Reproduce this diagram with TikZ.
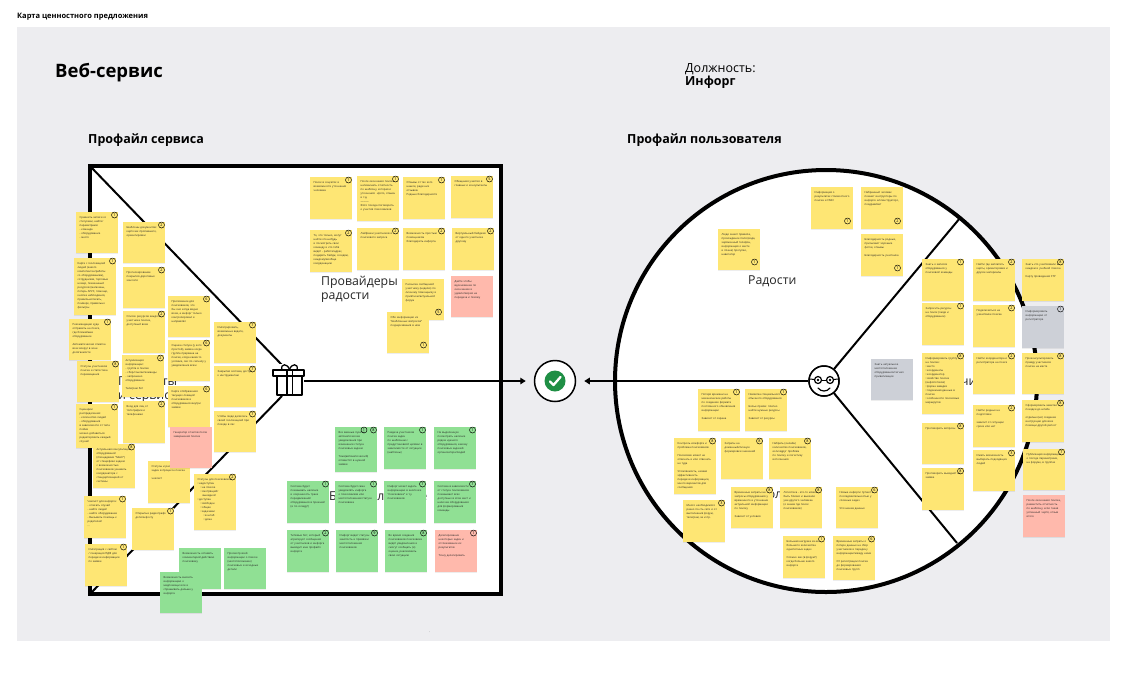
\documentclass[tikz,border=0pt]{standalone}
\usepackage{fontspec}
\setmainfont{Open Sans}
\usetikzlibrary{arrows.meta}
\definecolor{bggray}{HTML}{EDEDF0}
\definecolor{yel}{HTML}{FEE674}
\definecolor{grn}{HTML}{90E094}
\definecolor{rd}{HTML}{FFB9AC}
\definecolor{gry}{HTML}{CDD0D7}
\definecolor{okgreen}{HTML}{1F8F45}
\tikzset{
  x=1pt,y=-1pt,
  stickybox/.style={draw=none,anchor=north west,inner sep=0pt,minimum width=41.5pt,outer sep=0pt},
  stickytext/.style={anchor=north west,inner sep=0pt,text width=35pt,align=left,font=\fontsize{2.7}{4}\selectfont,text=black!85},
  badge/.style={circle,draw=black,line width=.45pt,inner sep=0pt,minimum size=6pt,font=\fontsize{3.8}{4}\selectfont},
  areatitle/.style={anchor=base west,inner sep=0pt,align=left,font=\fontsize{12.3}{14}\selectfont,text=black!85},
  heading/.style={anchor=base west,inner sep=0pt,font=\bfseries},
  frameline/.style={line width=4pt,draw=black},
  divider/.style={line width=2pt,draw=black},
  flow/.style={line width=2pt,draw=black,-{Triangle[length=5.5pt,width=6.5pt]}},
  icon/.style={line width=1.5pt,draw=black,fill=white,line join=round}
}
\newcommand{\gap}{\\[4pt]}
\newcommand{\li}{•\,}
\newcommand{\sticky}[7]{%
  \fill[black,opacity=.07] ({#2-.5},{#3-.2}) rectangle ({#2+42.2},{#3+#4+1});
  \node[stickybox,fill=#5,minimum height=#4pt] (#1) at (#2,#3) {};
  \node[stickytext] (#1t) at ({#2+3.5},{#3+4}) {#7};
  \node[badge] (#1n) at ({#2+38.5},{#3+3}) {#6};
}
\newcommand{\stickyB}[7]{%
  \fill[black,opacity=.07] ({#2-.5},{#3-.2}) rectangle ({#2+42.2},{#3+#4+1});
  \node[stickybox,fill=#5,minimum height=#4pt] (#1) at (#2,#3) {};
  \node[stickytext] (#1t) at ({#2+3.5},{#3+4}) {#7};
  \node[badge] (#1n) at ({#2+36.5},{#3+#4-8}) {#6};
}
\newcommand{\stickyP}[6]{%
  \fill[black,opacity=.07] ({#2-.5},{#3-.2}) rectangle ({#2+42.2},{#3+#4+1});
  \node[stickybox,fill=#5,minimum height=#4pt] (#1) at (#2,#3) {};
  \node[stickytext] (#1t) at ({#2+3.5},{#3+4}) {#6};
}
\begin{document}
\begin{tikzpicture}
\useasboundingbox (0,0) rectangle (1131,673);
\fill[white] (0,0) rectangle (1131,673);
\fill[bggray] (17,27) rectangle (1110,641);

% headings
\node[heading,font=\bfseries\fontsize{7.5}{9}\selectfont] (maintitle) at (17,18) {Карта ценностного предложения};
\node[heading,font=\bfseries\fontsize{18.5}{20}\selectfont] (service) at (55,77) {Веб-сервис};
\node[heading,font=\fontsize{12.5}{14}\selectfont] (role) at (685,72) {Должность:};
\node[heading,font=\bfseries\fontsize{12.5}{14}\selectfont] (roleval) at (685,85) {Инфорг};
\node[heading,font=\bfseries\fontsize{12.5}{14}\selectfont] (prof1) at (88,143) {Профайл сервиса};
\node[heading,font=\bfseries\fontsize{12.5}{14}\selectfont] (prof2) at (627,143) {Профайл пользователя};
\node[font=\fontsize{4}{4}\selectfont,inner sep=0pt,text=black!60] (dot) at (430,632) {.};

% frames
\coordinate (tl) at (90,166);
\coordinate (tr) at (501,166);
\coordinate (br) at (501,594);
\coordinate (bl) at (90,594);
\coordinate (giftul) at (282,365);
\coordinate (giftll) at (282,396);
\filldraw[frameline,fill=white] (tl) -- (tr) -- (br) -- (bl) -- cycle;
\node[circle,draw=black,fill=white,line width=4pt,minimum size=422pt,inner sep=0pt] (bigc) at (826,381) {};
\coordinate (cur) at (960,218);
\coordinate (clr) at (957,543);

% area titles
\node[areatitle] (tprod) at (118,399) {Продукты\\и сервисы};
\node[areatitle] (tprov) at (321,299) {Провайдеры\\радости};
\node[areatitle] (tpain) at (329,500) {Болеутоляющие};
\node[areatitle] (tjoy) at (748,284) {Радости};
\node[areatitle] (tbol) at (760,498) {Боли};
\node[areatitle] (ttask) at (933,385) {Задачи};

% nodes in the middle
\node[circle,inner sep=0pt,minimum size=31pt] (gift) at (288,381) {};
\node[circle,draw=black,fill=white,line width=1.5pt,minimum size=41pt,inner sep=0pt] (check) at (555,381) {};
\node[circle,draw=black,fill=white,line width=1.5pt,minimum size=30pt,inner sep=0pt] (smile) at (824,381) {};

% connectors
\draw[divider] (tl) -- (giftul);
\draw[divider] (bl) -- (giftll);
\draw[divider] (smile) -- (cur);
\draw[divider] (smile) -- (clr);
\draw[flow,shorten >=8pt] (gift.east) -- (check.west);
\draw[flow,shorten >=8pt] (smile.west) -- (check.east);

% redraw smile on top of lines
\node[circle,draw=black,fill=white,line width=1.5pt,minimum size=30pt,inner sep=0pt] (smileface) at (824,381) {};
\draw[line width=1.2pt] (818,380) circle (3.5);
\draw[line width=1.2pt] (830,380) circle (3.5);
\fill (818,380) circle (1.3);
\fill (830,380) circle (1.3);
\draw[line width=1pt] (821.5,380) -- (826.5,380);
\draw[line width=1pt] (814.5,379.5) -- (810,379);
\draw[line width=1pt] (833.5,379.5) -- (838,379);
\draw[line width=1.2pt,line cap=round] (818,388) .. controls (821,392) and (827,392) .. (830,388);

% check
\fill[okgreen] (555,381) circle (10.5);
\draw[white,line width=2.3pt,line cap=round,line join=round] (550,381.5) -- (553.5,385) -- (560.5,377);

% gift
\fill[white] (273,364) rectangle (304,396);
\draw[icon] (277,376) rectangle (302,395);
\draw[icon] (273,370) rectangle (304,376);
\draw[line width=1.5pt] (287,370) -- (287,395) (292.5,370) -- (292.5,395);
\draw[line width=1.3pt] (289.5,370) .. controls (288,363) and (280,363) .. (282,370);
\draw[line width=1.3pt] (289.5,370) .. controls (291,363) and (299,363) .. (297,370);

% service stickies
\sticky{a1}{76}{212}{41}{yel}{1}{Сравнить записи со статусами, найти/ параметрами:\\- команда\\- оборудование\\- место}
\sticky{a2}{74}{258}{57}{yel}{1}{Карта с геолокацией людей (какого компетентен/работы со оборудованием), сотрудников, торговые номер, показанный ресурсов (магазины, потерь АРУС, помощи, кнопка наблюдения, правильнописать, поиверх, правильно фильтры}
\sticky{a3}{69}{319}{41}{yel}{1}{Рекомендации куда отправить на поиск, где ближайшее оборудование\gap Автоматическая отметка всех вокруг в зоне досягаемости}
\sticky{a4}{77}{361}{41}{yel}{8}{Статусы участников поиска и статистика перемещения}
\sticky{a5}{76}{404}{44}{yel}{1}{Сценарии распределения:\\- количество людей\\- оборудования\\в зависимости от типа пойми\\можно добавиться редактировать каждый случай}
\sticky{a6}{93}{444}{44}{yel}{8}{Актуальная консультация оборудований (площадками "Mesh") от специфики задачи с возможностью поисковиков узнавать координатора с стандартизацией от системы}
\sticky{a7}{84}{496}{42}{yel}{1}{Чеклист для инфорга:\\- описать случай\\- найти людей\\- найти оборудование\\- Вызывать помощь к родителей\\...}
\sticky{a8}{85}{544}{42}{yel}{1}{Интеграция с сайтом / генерация ПДФ для передачи информации по заявке}
\sticky{b1}{123}{222}{41}{yel}{2}{Шаблоны документов: карточек пропавшего, ориентировки}
\sticky{b2}{123}{267}{41}{yel}{2}{Прогнозирование покрытия дороговых зон/сети}
\sticky{b3}{123}{311}{42}{yel}{2}{Список ресурсов каждого участника поиска, доступный всем}
\sticky{b4}{122}{355}{42}{yel}{2}{Актуализация информации:\\- группа в поиске\\- сбор/ссылки/команды\\- запрошено оборудование\gap Телеграм бот}
\sticky{b5}{123}{401}{42}{yel}{2}{Вход для лиц от топографии и телефонами}
\sticky{b6}{132}{508}{42}{yel}{1}{Открытые радиографо дополнфочту}
\sticky{b7}{148}{461}{42}{yel}{8}{Статусы и распределения задач в процессе поиска\gap чеклист}
\sticky{c1}{168}{296}{41}{yel}{6}{Приложение для поисковиков, что бы оно когда видно всем, а инфорг только контролировал и направлял}
\sticky{c2}{168}{340}{41}{yel}{6}{Оценка статуса (у кого простой), заявка когда группа прервана на поиске, когда какая-то условие, смс по сигналу у уведомление всем}
\sticky{c3}{168}{386}{41}{yel}{6}{Карта отображения текущих локаций поисковиков и оборудования внутри заявки}
\stickyP{c4}{170}{427}{41}{rd}{Генератор отчетов после завершения поиска}
\sticky{c5}{194}{474}{56}{yel}{2}{Статусы для поисковиков\\\li недоступен\\\hspace*{3pt}\li на поиске\\\hspace*{3pt}\li смотрящий/\\\hspace*{5pt}выездной\\\li доступен\\\hspace*{3pt}\li свободен\\\hspace*{3pt}\li общее\\\hspace*{3pt}\li задачами\\\hspace*{6pt}\li в штаб\\\hspace*{6pt}\li дома}
\sticky{d1}{214}{322}{41}{yel}{7}{Интегрировать, возможные ведете, документы}
\sticky{d2}{214}{366}{41}{yel}{7}{Закрытая система, доступ к инструментам}
\sticky{d3}{214}{411}{41}{yel}{7}{Чтобы люди делились своей геолокацией при походе в лес}
\stickyP{e1}{179}{548}{41}{grn}{Возможность оставить комментарий действию поисковику}
\stickyP{e2}{224}{548}{41}{grn}{Просмотр всей информации о поиске (местоположение) поисковых и исходных детали}
\stickyP{e3}{160}{572}{41}{grn}{Возможность вносить информацию о медпомощи или и спрашивать дальше у инфорга}

% gain creators
\sticky{f1}{310}{177}{42}{yel}{1}{Поиск в соцсетях и возможности уточнения человека}
\sticky{f2}{357}{176}{45}{yel}{1}{После окончания поиска напоминать отчётность по шаблону, которая и уточнения: «фото, отзыв» и т.д.\\———\\Фото похода поговорить о участия поисковиков}
\sticky{f3}{403}{177}{42}{yel}{1}{Отзывы от тех кого нашли, ради них отзывов.\\Родные благодарности}
\sticky{f4}{451}{176}{42}{yel}{5}{Обещания участия в главных и консультанты}
\sticky{f5}{310}{230}{42}{yel}{2}{То, что только, могут найти кто-нибудь и посмотреть свои команду и кто тебя видят - работа/адрес, подарить бейдж, соседям, каждому/вообще координацию}
\sticky{f6}{357}{228}{42}{yel}{2}{Лайфхаки участников и поискового запроса}
\sticky{f7}{403}{228}{42}{yel}{2}{Возможность простым помощником благодарить инфорга.}
\sticky{f8}{452}{228}{42}{yel}{2}{Виртуальный бейджик от одного участника другому}
\stickyP{f9}{451}{276}{41}{rd}{Дайте чтобы вдохновение по окончанию и удовлетвория на передача и похожу}
\stickyB{f10}{402}{279}{41}{yel}{5}{Рассылка сообщений участнику (неделю) по личному помощнику и приятном/актуальной форум}
\stickyB{f11}{387}{312}{41}{yel}{1}{Обо информации из "Шаблонных вопросов" подчеркивания в нём}

% pain relievers
\sticky{g1}{335}{427}{45}{grn}{8}{Все важные пункты автоматические уведомления при изменении статуса поисковых задачи\gap Тоже(автоматический) оповестят в нужной заявки}
\node[badge] (g1x) at (364,430) {1};
\sticky{g2}{384}{427}{42}{grn}{1}{Раздача участников поиска задач по шаблонам с предустановкой целями в зависимости от ситуации (шаблоны)}
\sticky{g3}{434}{427}{42}{grn}{1}{На выделенную посмотреть наличие рядом нужного оборудования, какому поисковых задачей организатора/людей}
\sticky{g4}{287}{481}{42}{grn}{1}{Система будет показывать наличие и сохранность траек передвижения/ оборудования в прежней (и по складу?)}
\sticky{g5}{335}{481}{42}{grn}{1}{Система будет сама уведомлять инфорга о поисковиков или местоположении/статусе поисковика}
\sticky{g6}{384}{481}{42}{grn}{7}{Инфорг может задать информацию в кнопочке "поисковика" и т.у. поисковиков}
\sticky{g7}{434}{481}{42}{grn}{7}{Система в зависимости от статуса поисковиков показывает всех доступных в этом мест и наличие оборудования для формирования команды}
\sticky{g8}{287}{530}{42}{grn}{2}{Типовые бот, который агрегирует сообщения от участников и инфорга выводит мне профайл инфорга}
\sticky{g9}{336}{530}{42}{grn}{9}{Инфорг видит статусы занятость и привязки местоположения поисковиков}
\sticky{g10}{385}{530}{42}{grn}{8}{Во время создания поисковиков поисковики видят уведомления и смогут сообщать (и) оценка, реализовать свою ситуацию}
\sticky{g11}{435}{530}{42}{rd}{1}{Делегирование некоторых задач и отслеживание их результатов\gap Точку делегировать}

% gains
\stickyB{h1}{811}{187}{42}{yel}{1}{Информация о результатах стоимостного поиска и СМИ}
\stickyB{h2}{861}{187}{42}{yel}{2}{Набранный человек помнит инструкторы по инфорге и/к/инструкторс, поздравляет}
\stickyB{h3}{861}{234}{42}{yel}{1}{Благодарность родных, присылают хорошие фотки, отзывы\gap Благодарность участника}
\stickyB{h4}{718}{229}{41}{yel}{1}{Люди знают правила, прохождение поля (вода, заряженный телефон, информация о месте и плане) прогулки, навигатор}

% jobs
\sticky{j1}{922}{259}{42}{yel}{1}{Знать о записях оборудования у поисковой команды}
\sticky{j2}{973}{259}{42}{yel}{2}{Найти где заплатить карты, ориентировки и другие материалы}
\sticky{j3}{1022}{259}{42}{yel}{8}{Знать кто участвовали в каждом и учебной поиска\gap Карту проведения СТР}
\sticky{j4}{922}{303}{42}{yel}{1}{Запросить ресурсы на поиск (люди и оборудование)}
\sticky{j5}{973}{305}{42}{yel}{2}{Подключиться на учиаствике поиска}
\sticky{j6}{1022}{306}{42}{gry}{1}{Информировать информацию от регистраторе}
\stickyP{j7}{871}{359}{41}{gry}{Знать актуальное местоположение оборудования/сигнал приватизации}
\sticky{j8}{922}{353}{61}{yel}{8}{Информировать группу на поиске:\\\li место\\\li координаты\\\li координатор\\\li свойство поиска (инфопотоков)\\\li форма заведки\\\li подземная данные в поиске\\\li особенности поисковых маршрутов}
\sticky{j9}{973}{353}{41}{yel}{2}{Найти координатора и регистратора на поиск}
\sticky{j10}{1022}{353}{41}{yel}{8}{Проконсультировать правду участников поиска на месте}
\sticky{j11}{922}{423}{41}{yel}{8}{Проговорить вопросы}
\sticky{j12}{922}{468}{42}{yel}{8}{Проговорить выезднёт на заявке}
\sticky{j13}{973}{405}{42}{yel}{2}{Найти родных на подготовке\gap зависит от ситуации срока или нет}
\sticky{j14}{973}{450}{41}{yel}{3}{Иметь возможность выбирать подходящих людей}
\sticky{j15}{1022}{400}{42}{yel}{8}{Сформировать заметки поездки до штаба\gap отдельно(но) создание инструкции для всех помощи другой репост}
\sticky{j16}{1023}{449}{41}{yel}{7}{Публикация информации о погоде параметрами, на форуме, в группах}
\stickyP{j17}{1023}{495}{42}{rd}{После окончания поиска, разместить отчётность по шаблону, если такая успешный чертё, отзыв итоге}

% pains
\sticky{k1}{698}{389}{42}{yel}{1}{Потеря времени на механические работы по созданию формата постоянного обновления информации\gap Зависит от охрана}
\sticky{k2}{745}{389}{42}{yel}{1}{Нехватка специального обычного оборудования\gap Болье приём: платно найти нужные ресурсы\gap Зависит от ресурсы}
\sticky{k3}{674}{438}{56}{yel}{8}{Контроль комфорта и проблема поисковиков\gap Поисковик может не отвечать и или отвечать не туда\gap Утомляемость, низкая эффективность передачи информации, много вариантов для сообщения}
\sticky{k4}{721}{438}{41}{yel}{8}{Затраты на доменный/личную формировки значений}
\sticky{k5}{769}{438}{41}{yel}{8}{Набрать (онлайн) количество поисковиков, если вдруг проблем по поиску и логистику исполнения}
\sticky{k6}{683}{500}{42}{yel}{3}{Много необходимого разно по-сть сети и от выполнения форум, телеграм, за и пр.}
\sticky{k7}{731}{487}{41}{yel}{8}{Временные затраты на запросы оборудования у временного и уточнение актуальной информации по поиску\gap Зависит от условия}
\sticky{k8}{780}{487}{41}{yel}{8}{Логистика - кто-то может быть близко и выехали уже другого человека (о знаем где поиск поисковиков)}
\sticky{k9}{836}{487}{41}{yel}{6}{Новые инфорги путают с последовательностью у сложных задач\gap Уточнение данных}
\sticky{k10}{783}{536}{42}{yel}{1}{Большая нагрузка из-за большого количества однотипных задач\gap Сложно как (в форум?) когда больше какого инфорга}
\sticky{k11}{833}{536}{44}{yel}{6}{Временные затраты о потере данных на сбор участников и передачу информации/между ними\gap От регистрации поиска до формирования поисковых групп}
\end{tikzpicture}
\end{document}
